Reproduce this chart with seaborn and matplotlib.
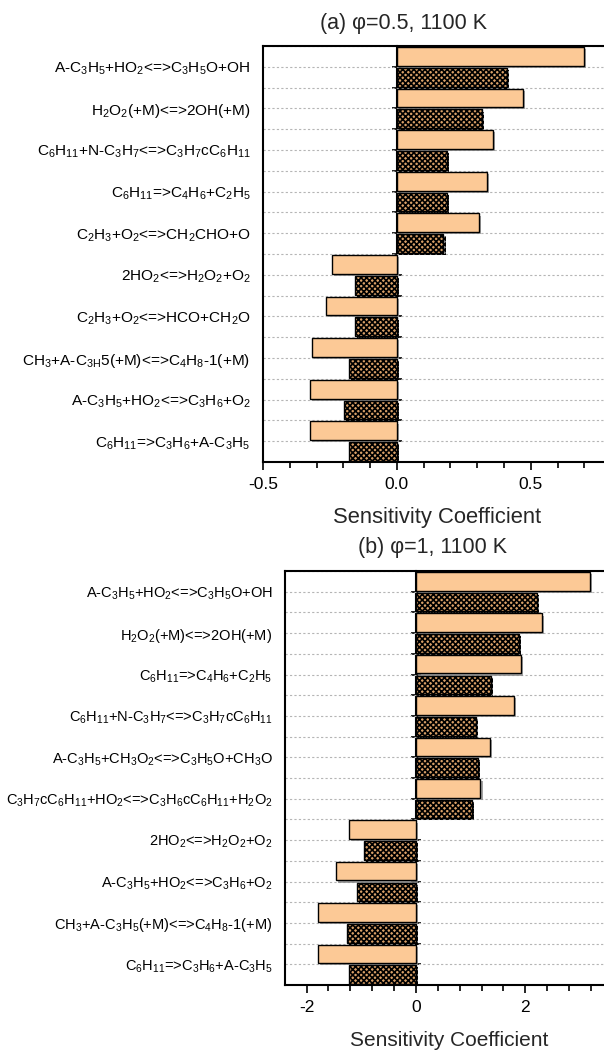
import numpy as np
import pandas as pd
import matplotlib
matplotlib.use("Agg")
import matplotlib.pyplot as plt
import matplotlib.patheffects as pe
from matplotlib.ticker import MultipleLocator
import seaborn as sns

# ---------------- data ----------------
reactions_a = [
    "A-C$_3$H$_5$+HO$_2$<=>C$_3$H$_5$O+OH",
    "H$_2$O$_2$(+M)<=>2OH(+M)",
    "C$_6$H$_{11}$+N-C$_3$H$_7$<=>C$_3$H$_7$cC$_6$H$_{11}$",
    "C$_6$H$_{11}$=>C$_4$H$_6$+C$_2$H$_5$",
    "C$_2$H$_3$+O$_2$<=>CH$_2$CHO+O",
    "2HO$_2$<=>H$_2$O$_2$+O$_2$",
    "C$_2$H$_3$+O$_2$<=>HCO+CH$_2$O",
    "CH$_3$+A-C$_{\\mathrm{3H}}$5(+M)<=>C$_4$H$_8$-1(+M)",
    "A-C$_3$H$_5$+HO$_2$<=>C$_3$H$_6$+O$_2$",
    "C$_6$H$_{11}$=>C$_3$H$_6$+A-C$_3$H$_5$",
]
light_a = [0.700, 0.470, 0.358, 0.336, 0.306, -0.243, -0.265, -0.318, -0.323, -0.326]
hatched_a = [0.410, 0.319, 0.188, 0.188, 0.174, -0.157, -0.157, -0.179, -0.198, -0.179]

reactions_b = [
    "A-C$_3$H$_5$+HO$_2$<=>C$_3$H$_5$O+OH",
    "H$_2$O$_2$(+M)<=>2OH(+M)",
    "C$_6$H$_{11}$=>C$_4$H$_6$+C$_2$H$_5$",
    "C$_6$H$_{11}$+N-C$_3$H$_7$<=>C$_3$H$_7$cC$_6$H$_{11}$",
    "A-C$_3$H$_5$+CH$_3$O$_2$<=>C$_3$H$_5$O+CH$_3$O",
    "C$_3$H$_7$cC$_6$H$_{11}$+HO$_2$<=>C$_3$H$_6$cC$_6$H$_{11}$+H$_2$O$_2$",
    "2HO$_2$<=>H$_2$O$_2$+O$_2$",
    "A-C$_3$H$_5$+HO$_2$<=>C$_3$H$_6$+O$_2$",
    "CH$_3$+A-C$_3$H$_5$(+M)<=>C$_4$H$_8$-1(+M)",
    "C$_6$H$_{11}$=>C$_3$H$_6$+A-C$_3$H$_5$",
]
light_b = [3.19, 2.30, 1.92, 1.80, 1.35, 1.18, -1.22, -1.46, -1.79, -1.80]
hatched_b = [2.21, 1.89, 1.37, 1.09, 1.14, 1.02, -0.95, -1.08, -1.26, -1.22]

series_names = ["light", "hatched"]
title_a = "(a) φ=0.5, 1100 K"
title_b = "(b) φ=1, 1100 K"
xlabel = "Sensitivity Coefficient"

LIGHT = "#fcc996"
HATCHFACE = "#d9a068"

# ---------------- style ----------------
sns.set_theme(style="white")
plt.rcParams["font.family"] = ["Liberation Sans", "DejaVu Sans"]
plt.rcParams["mathtext.fontset"] = "custom"
plt.rcParams["mathtext.rm"] = "Liberation Sans"
plt.rcParams["mathtext.it"] = "Liberation Sans:italic"
plt.rcParams["mathtext.bf"] = "Liberation Sans:bold"
plt.rcParams["axes.unicode_minus"] = False
plt.rcParams["hatch.linewidth"] = 1.2
plt.rcParams["hatch.color"] = "black"

fig = plt.figure(figsize=(6.04, 10.5), dpi=100)
W, H = 604.0, 1050.0
ax1 = fig.add_axes([263 / W, 1 - 462 / H, 1 - 263 / W, 416 / H])
ax2 = fig.add_axes([285 / W, 1 - 985 / H, 1 - 285 / W, 414 / H])


def panel(ax, reactions, v1, v2, xlim, major, minor, label_size):
    n = len(reactions)
    df = pd.DataFrame({
        "reaction": list(reactions) * 2,
        "value": list(v1) + list(v2),
        "series": [series_names[0]] * n + [series_names[1]] * n,
    })
    sns.barplot(data=df, x="value", y="reaction", hue="series", orient="h",
                palette=[LIGHT, HATCHFACE], saturation=1, width=1.0, gap=0.1,
                errorbar=None, legend=False, ax=ax,
                edgecolor="black", linewidth=1.0)
    for bar in ax.containers[1]:
        bar.set_hatch("xxxxxx")
    for p in ax.patches:
        p.set_path_effects([pe.SimplePatchShadow(offset=(1.5, -1.5),
                                                 shadow_rgbFace="0.55", alpha=0.8),
                            pe.Normal()])
    ax.set_xlim(*xlim)
    ax.set_ylim(n - 0.5, -0.5)
    ax.set_xlabel("")
    ax.set_ylabel("")

    # y ticks: labels at category centres, grid at every bar boundary
    ax.set_yticks(range(n))
    ax.set_yticks(np.arange(-0.5, n, 1.0), minor=True)
    ax.tick_params(axis="y", which="both", length=0, pad=9, labelsize=label_size,
                   colors="black")
    ax.grid(axis="y", which="both", linestyle=(0, (2, 2)), color="#b5b5b5",
            linewidth=0.8)
    ax.grid(axis="x", visible=False)
    ax.set_axisbelow(True)

    # x ticks
    ax.xaxis.set_major_locator(MultipleLocator(major))
    ax.xaxis.set_minor_locator(MultipleLocator(minor))
    ax.tick_params(axis="x", which="both", bottom=True, direction="out",
                   width=1.2, colors="black", labelsize=12.5, pad=5)
    ax.tick_params(axis="x", which="major", length=6)
    ax.tick_params(axis="x", which="minor", length=4)

    for s in ["left", "top", "bottom"]:
        ax.spines[s].set_visible(True)
        ax.spines[s].set_color("black")
        ax.spines[s].set_linewidth(1.5)
    ax.spines["right"].set_visible(False)

    # zero line with ticks at each bar boundary
    frac = (0 - xlim[0]) / (xlim[1] - xlim[0])
    sec = ax.secondary_yaxis(frac)
    sec.set_yticks(np.arange(-0.5, n, 0.5))
    sec.tick_params(axis="y", direction="inout", length=7, width=1.2,
                    labelleft=False, labelright=False, left=True, colors="black")
    sec.spines["left"].set_linewidth(1.5)
    sec.spines["left"].set_color("black")


panel(ax1, reactions_a, light_a, hatched_a, (-0.5, 0.7735), 0.5, 0.1, 11.1)
panel(ax2, reactions_b, light_b, hatched_b, (-2.395, 3.44), 2, 0.4, 10.5)

fig.text(403 / W, 1 - 24 / H, title_a, ha="center", va="center", fontsize=15.5)
fig.text(432 / W, 1 - 548 / H, title_b, ha="center", va="center", fontsize=15.5)
fig.text(437 / W, 1 - 517 / H, xlabel, ha="center", va="center", fontsize=15.8)
fig.text(449 / W, 1 - 1040 / H, xlabel, ha="center", va="center", fontsize=15)

fig.savefig("out.png", dpi=100)
